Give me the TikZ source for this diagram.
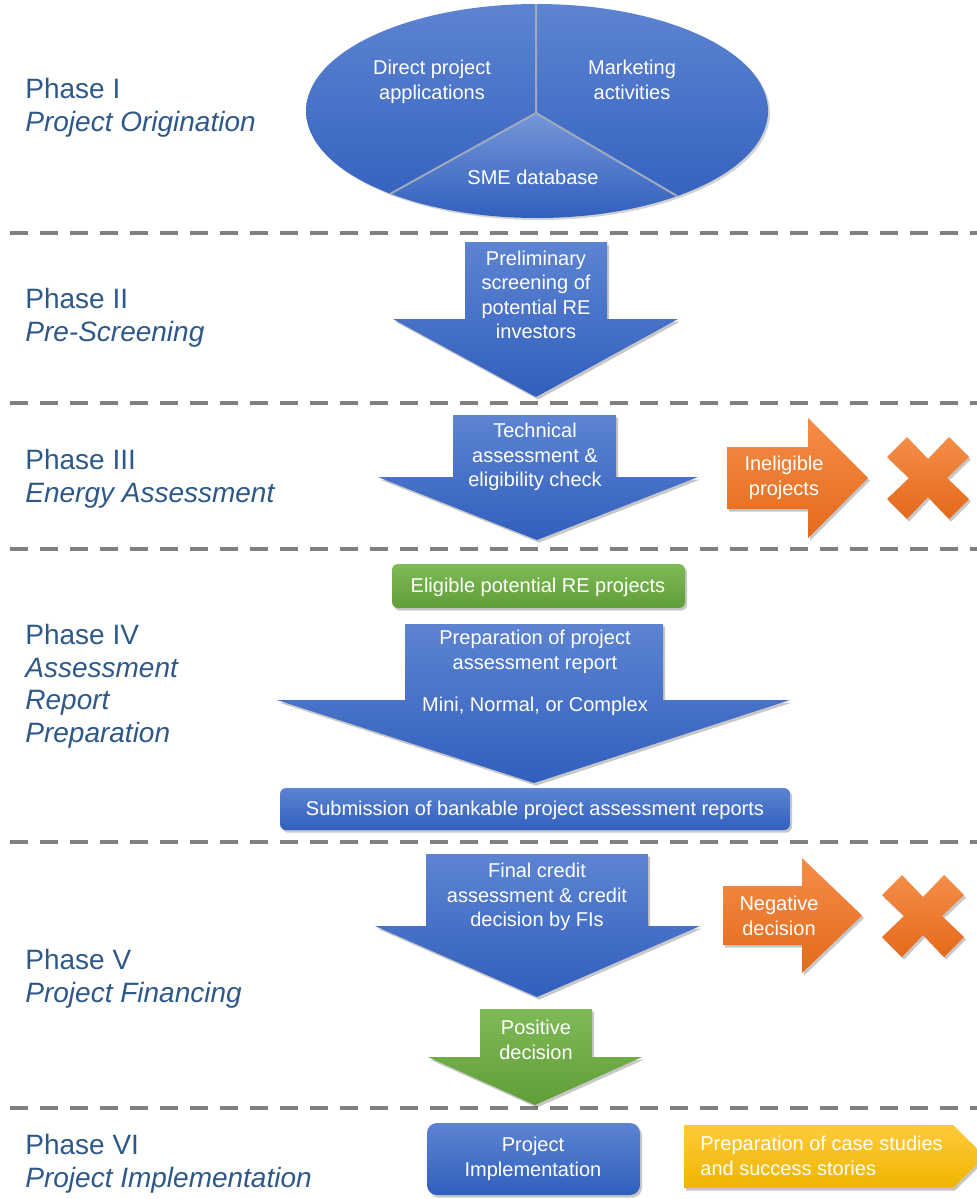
\documentclass[tikz,border=0pt]{standalone}
\usepackage{fontspec}
\setmainfont{Liberation Sans}
\usetikzlibrary{shadows}

\definecolor{blueT}{RGB}{93,132,209}
\definecolor{blueB}{RGB}{49,95,190}
\definecolor{orangeT}{RGB}{244,141,72}
\definecolor{orangeB}{RGB}{228,106,26}
\definecolor{greenT}{RGB}{126,186,86}
\definecolor{greenB}{RGB}{96,158,56}
\definecolor{yellowT}{RGB}{255,202,58}
\definecolor{yellowB}{RGB}{239,181,0}
\definecolor{phasetext}{RGB}{46,88,136}
\definecolor{dashgray}{RGB}{128,128,128}
\definecolor{sectorline}{RGB}{160,170,190}

\tikzset{
  phasetitle/.style={anchor=north west, inner sep=0pt, align=left, text=phasetext,
    font=\fontsize{14}{16.3}\selectfont},
  boxtext/.style={inner sep=0pt, align=center, text=white,
    font=\fontsize{10}{12.25}\selectfont},
  softshadow/.style={drop shadow={shadow xshift=1pt, shadow yshift=-1.3pt, opacity=0.22, fill=black}},
  blueshade/.style={top color=blueT, bottom color=blueB, softshadow},
  orangeshade/.style={top color=orangeT, bottom color=orangeB, softshadow},
  greenshade/.style={top color=greenT, bottom color=greenB, softshadow},
  yellowshade/.style={top color=yellowT, bottom color=yellowB, softshadow},
  phaseline/.style={draw=dashgray, line width=2pt, dash pattern=on 9pt off 6pt},
}

\begin{document}
\begin{tikzpicture}[x=0.5pt, y=-0.5pt]
    \useasboundingbox (0,0) rectangle (977,1199);
    \clip (0,0) rectangle (977,1199);

    % separators between the phases
    \foreach \y in {233,403,549,842,1108}
        \draw[phaseline] (10,\y) -- (977,\y);

    \node[phasetitle] (ph1) at (25,78) {Phase I\\\textit{Project Origination}};
    \node[phasetitle] (ph2) at (25,288) {Phase II\\\textit{Pre-Screening}};
    \node[phasetitle] (ph3) at (25,449) {Phase III\\\textit{Energy Assessment}};
    \node[phasetitle] (ph4) at (25,624) {Phase IV\\\textit{Assessment}\\\textit{Report}\\\textit{Preparation}};
    \node[phasetitle] (ph5) at (25,949) {Phase V\\\textit{Project Financing}};
    \node[phasetitle] (ph6) at (25,1134) {Phase VI\\\textit{Project Implementation}};

    % origination pie
    \fill[black, opacity=0.18] (539,113) ellipse [x radius=231, y radius=107];
    \coordinate (hub) at (536,113);
    \begin{scope}
        \clip (537,111) ellipse [x radius=231, y radius=107];
        \clip (hub) -- (536,-10) -- (290,-10) -- (290,250) -- cycle;
        \shade[top color=blueT, bottom color=blueB] (290,4) rectangle (790,218);
    \end{scope}
    \begin{scope}
        \clip (537,111) ellipse [x radius=231, y radius=107];
        \clip (hub) -- (536,-10) -- (790,-10) -- (790,263) -- cycle;
        \shade[top color=blueT, bottom color=blueB] (290,4) rectangle (790,218);
    \end{scope}
    \begin{scope}
        \clip (537,111) ellipse [x radius=231, y radius=107];
        \clip (hub) -- (290,250) -- (290,300) -- (790,300) -- (790,263) -- cycle;
        \shade[top color=blueT!85!white, bottom color=blueB] (290,113) rectangle (790,218);
    \end{scope}
    \draw[sectorline, line width=1pt] (hub) -- (536,4) (hub) -- (390,194) (hub) -- (677,196);

    \node[boxtext] (direct) at (432,82) {Direct project\\applications};
    \node[boxtext] (market) at (632,80) {Marketing\\activities};
    \node[boxtext] (smedb) at (533,177) {SME database};

    % phase II
    \shade[blueshade] (465,242) -- (607,242) -- (607,319) -- (678,319) -- (536,397) -- (393,319) -- (465,319) -- cycle;
    \node[boxtext] (screen) at (536,295) {Preliminary\\screening of\\potential RE\\investors};

    % phase III
    \shade[blueshade] (453,415) -- (616,415) -- (616,477) -- (698,477) -- (537,540) -- (378,477) -- (453,477) -- cycle;
    \node[boxtext] (techcheck) at (535,457) {Technical\\assessment \&\\eligibility check};

    \shade[orangeshade] (727,447) -- (808,447) -- (808,418) -- (868,478) -- (808,538) -- (808,509) -- (727,509) -- cycle;
    \node[boxtext] (inelig) at (784,478) {Ineligible\\projects};

    % rejection crosses
    \foreach \cx/\cy in {928/478, 923/916}
        \shade[orangeshade, shift={(\cx,\cy)}] (19,0) -- (41,21) -- (21,41) -- (0,19) -- (-21,41) -- (-41,21)
            -- (-19,0) -- (-41,-21) -- (-21,-41) -- (0,-19) -- (21,-41) -- (41,-21) -- cycle;

    % phase IV
    \shade[greenshade, rounded corners=3pt] (392,564) rectangle (685,608);
    \node[boxtext] (eligible) at (538,587) {Eligible potential RE projects};

    \shade[blueshade] (405,624) -- (663,624) -- (663,700) -- (790,700) -- (534,783) -- (277,700) -- (405,700) -- cycle;
    \node[boxtext] (report) at (535,673) {Preparation of project\\assessment report\\[8.75pt]Mini, Normal, or Complex};

    \shade[blueshade, rounded corners=3pt] (280,788) rectangle (790,830);
    \node[boxtext] (submit) at (535,810) {Submission of bankable project assessment reports};

    % phase V
    \shade[blueshade] (426,854) -- (648,854) -- (648,926) -- (700,926) -- (537,997) -- (375,926) -- (426,926) -- cycle;
    \node[boxtext] (credit) at (537,897) {Final credit\\assessment \& credit\\decision by FIs};

    \shade[orangeshade] (723,886) -- (802,886) -- (802,858) -- (862,915.5) -- (802,973) -- (802,945) -- (723,945) -- cycle;
    \node[boxtext] (negative) at (779,916) {Negative\\decision};

    \shade[greenshade] (480,1009) -- (592,1009) -- (592,1057) -- (642,1057) -- (535,1105) -- (428,1057) -- (480,1057) -- cycle;
    \node[boxtext] (positive) at (536,1040) {Positive\\decision};

    % phase VI
    \shade[blueshade, rounded corners=5pt] (427,1123) rectangle (640,1195);
    \node[boxtext] (implement) at (533,1159) {Project\\Implementation};

    \shade[yellowshade] (684,1125) -- (953,1125) -- (985,1156.5) -- (953,1188) -- (684,1188) -- cycle;
    \node[boxtext, anchor=west, align=left] (stories) at (700,1156) {Preparation of case studies\\and success stories};
\end{tikzpicture}
\end{document}
